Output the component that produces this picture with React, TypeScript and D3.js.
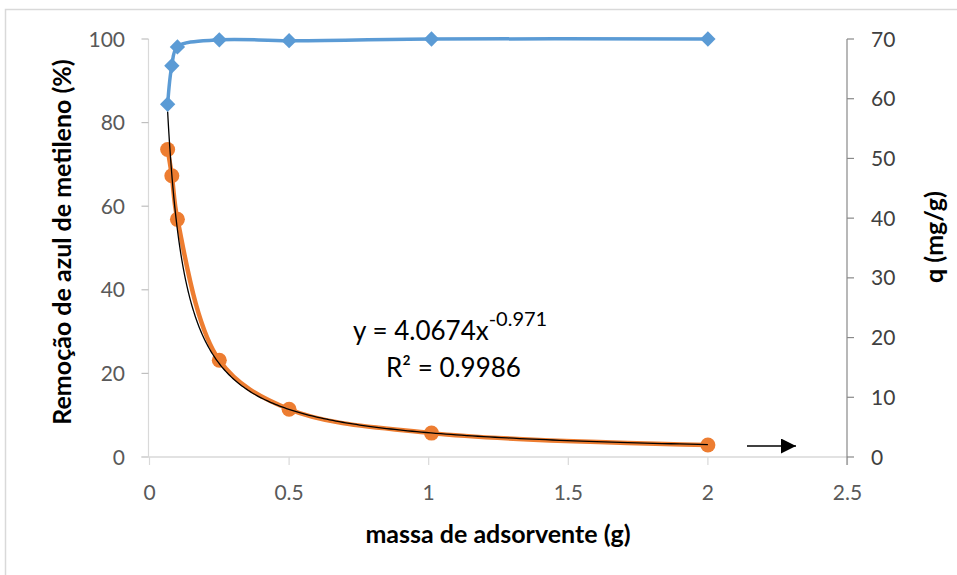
import React from "react";
import * as d3 from "d3";

// Adsorbent mass (g) for each run
const massa = [0.065, 0.08, 0.1, 0.25, 0.5, 1.01, 2.0];
// Methylene blue removal (%), left axis
const remocao = [84.4, 93.6, 98.1, 99.8, 99.6, 100, 100];
// Adsorbed amount q (mg/g), right axis
const qAds = [51.5, 47.1, 39.8, 16.2, 8.0, 4.0, 2.0];
// Power-law trend: q = a * m^b
const trendA = 4.0674;
const trendB = -0.971;
const trendR2 = 0.9986;

const xTicks = [0, 0.5, 1, 1.5, 2, 2.5];
const leftTicks = [0, 20, 40, 60, 80, 100];
const rightTicks = [0, 10, 20, 30, 40, 50, 60, 70];

const W = 957;
const H = 575;
const FONT = "Lato, 'Noto Sans', sans-serif";

export default function App() {
  const x = d3.scaleLinear().domain([0, 2.5]).range([149.5, 847.5]);
  const yL = d3.scaleLinear().domain([0, 100]).range([457, 39]);
  const yR = d3.scaleLinear().domain([0, 70]).range([457, 39]);

  const smooth = d3.curveCatmullRom.alpha(0.5);
  const blueLine = d3
    .line<number>()
    .x((_, i) => x(massa[i]))
    .y((d) => yL(d))
    .curve(smooth)(remocao) as string;
  const orangeLine = d3
    .line<number>()
    .x((_, i) => x(massa[i]))
    .y((d) => yR(d))
    .curve(smooth)(qAds) as string;

  const trendX = d3.range(0, 201).map((i) => {
    const lo = Math.log(massa[0]);
    const hi = Math.log(massa[massa.length - 1]);
    return Math.exp(lo + ((hi - lo) * i) / 200);
  });
  const trendLine = d3
    .line<number>()
    .x((m) => x(m))
    .y((m) => yR(trendA * Math.pow(m, trendB)))(trendX) as string;

  const diamond = d3.symbol().type(d3.symbolDiamond2).size(150)() as string;

  return (
    <svg
      width={W}
      height={H}
      style={{ position: "absolute", left: 0, top: 0, background: "#fff" }}
      fontFamily={FONT}
    >
      <defs>
        <marker
          id="arrowHead"
          viewBox="0 0 10 10"
          refX="10"
          refY="5"
          markerWidth="16"
          markerHeight="15"
          markerUnits="userSpaceOnUse"
          orient="auto"
        >
          <path d="M0,0 L10,5 L0,10 Z" fill="#000" />
        </marker>
      </defs>

      {/* chart frame */}
      <rect x={5.5} y={9.5} width={W + 20} height={H + 20} fill="none" stroke="#d9d9d9" strokeWidth={1.5} />

      {/* left axis */}
      <line x1={148.5} x2={148.5} y1={yL(100)} y2={yL(0)} stroke="#d9d9d9" strokeWidth={1.2} />
      {leftTicks.map((t) => (
        <g key={"l" + t}>
          <line x1={141.5} x2={148.5} y1={yL(t)} y2={yL(t)} stroke="#bfbfbf" strokeWidth={1.2} />
          <text x={125} y={yL(t)} dy="0.36em" textAnchor="end" fontSize={21} fill="#595959">
            {t}
          </text>
        </g>
      ))}

      {/* bottom axis */}
      <line x1={141.5} x2={x(2.5)} y1={457} y2={457} stroke="#d9d9d9" strokeWidth={1.5} />
      {xTicks.map((t) => (
        <g key={"x" + t}>
          <line x1={x(t)} x2={x(t)} y1={457} y2={465} stroke="#d9d9d9" strokeWidth={1.2} />
          <text x={x(t)} y={492} dy="0.36em" textAnchor="middle" fontSize={21} fill="#595959">
            {t}
          </text>
        </g>
      ))}

      {/* right axis */}
      <line x1={847} x2={847} y1={yR(70)} y2={yR(0) + 8} stroke="#898989" strokeWidth={1.2} />
      {rightTicks.map((t) => (
        <g key={"r" + t}>
          <line x1={847} x2={854} y1={yR(t)} y2={yR(t)} stroke="#898989" strokeWidth={1.2} />
          <text x={871} y={yR(t)} dy="0.36em" textAnchor="start" fontSize={21} fill="#404040">
            {t}
          </text>
        </g>
      ))}

      {/* axis titles */}
      <text
        transform={`translate(71,242) rotate(-90)`}
        textAnchor="middle"
        fontSize={25}
        fontWeight="bold"
        fill="#000"
      >
        Remoção de azul de metileno (%)
      </text>
      <text x={498} y={543} textAnchor="middle" fontSize={25} fontWeight="bold" fill="#000">
        massa de adsorvente (g)
      </text>
      <text
        transform={`translate(943,237) rotate(-90)`}
        textAnchor="middle"
        fontSize={25}
        fontWeight="bold"
        fill="#000"
      >
        q (mg/g)
      </text>

      {/* removal series */}
      <path d={blueLine} fill="none" stroke="#5b9bd5" strokeWidth={3.5} strokeLinejoin="round" />
      {remocao.map((v, i) => (
        <path key={"b" + i} d={diamond} transform={`translate(${x(massa[i])},${yL(v)})`} fill="#5b9bd5" />
      ))}

      {/* q series */}
      <path d={orangeLine} fill="none" stroke="#ed7d31" strokeWidth={4.5} strokeLinejoin="round" />
      {qAds.map((v, i) => (
        <circle key={"o" + i} cx={x(massa[i])} cy={yR(v)} r={7.5} fill="#ed7d31" />
      ))}

      {/* power trend */}
      <path d={trendLine} fill="none" stroke="#000" strokeWidth={1.3} />

      {/* trend equation */}
      <text x={353} y={340} fontSize={26} fill="#000">
        y = {trendA}x
        <tspan dy={-14} fontSize={20}>
          {trendB}
        </tspan>
      </text>
      <text x={386} y={377} fontSize={26} fill="#000">
        R² = {trendR2}
      </text>

      {/* arrow pointing to right axis */}
      <line x1={747} x2={796} y1={446} y2={446} stroke="#000" strokeWidth={1.5} markerEnd="url(#arrowHead)" />
    </svg>
  );
}
